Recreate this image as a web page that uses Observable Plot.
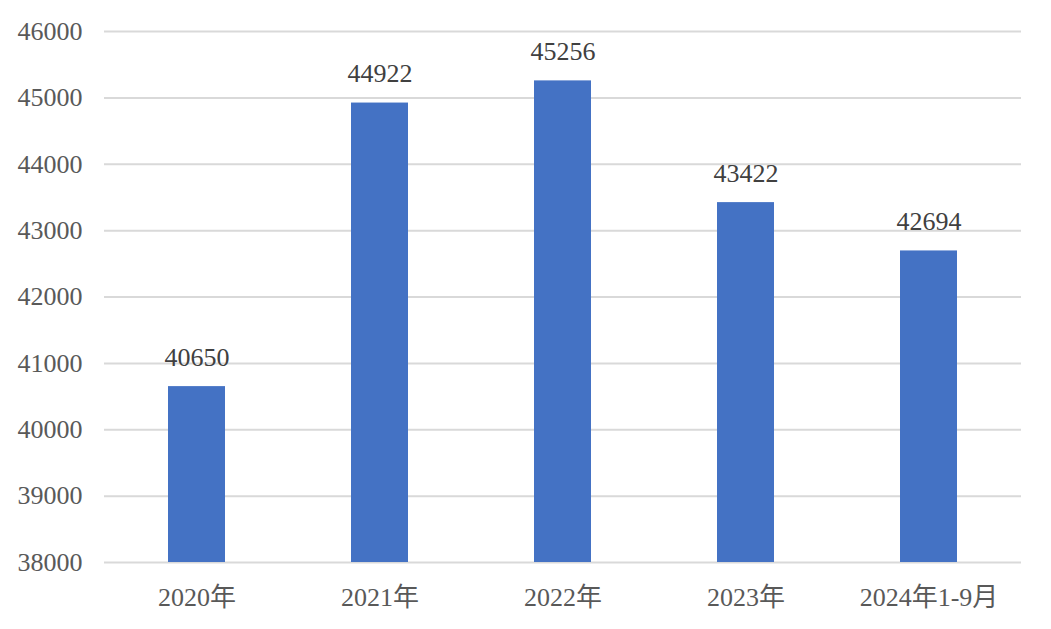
<!DOCTYPE html>
<html>
<head>
<meta charset="utf-8">
<script src="https://cdn.jsdelivr.net/npm/d3@7"></script>
<script src="https://cdn.jsdelivr.net/npm/@observablehq/plot@0.6"></script>
<style>
  html, body { margin: 0; padding: 0; background: #fff; }
  #chart svg { display: block; }
</style>
</head>
<body>
<div id="chart"></div>
<script>
const categories = ["2020年", "2021年", "2022年", "2023年", "2024年1-9月"];
const values = [40650, 44922, 45256, 43422, 42694];
const yTicks = [38000, 39000, 40000, 41000, 42000, 43000, 44000, 45000, 46000];

const data = categories.map((c, i) => ({ category: c, value: values[i] }));

const chart = Plot.plot({
  width: 1051,
  height: 629,
  marginLeft: 104,
  marginRight: 30,
  marginTop: 31,
  marginBottom: 67,
  style: {
    fontFamily: "'Liberation Serif', 'Times New Roman', 'Noto Sans CJK SC', serif",
    fontSize: "26px",
    color: "#595959",
    background: "#fff"
  },
  x: { domain: categories, paddingInner: 0.69, paddingOuter: 0.345, label: null },
  y: { domain: [38000, 46000], label: null },
  marks: [
    Plot.gridY(yTicks, { stroke: "#d9d9d9", strokeOpacity: 1, strokeWidth: 2 }),
    Plot.axisY(yTicks, { tickSize: 0, tickPadding: 22, tickFormat: d => String(d), fill: "#595959", fontSize: 26, label: null }),
    Plot.axisX({ tickSize: 0, tickPadding: 25, fill: "#595959", fontSize: 26, label: null }),
    Plot.barY(data, { x: "category", y1: 38000, y2: "value", fill: "#4472C4" }),
    Plot.text(data, { x: "category", y: "value", text: d => String(d.value), lineAnchor: "bottom", dy: -21, fill: "#404040", fontSize: 26 })
  ]
});
document.getElementById("chart").appendChild(chart);
</script>
</body>
</html>
